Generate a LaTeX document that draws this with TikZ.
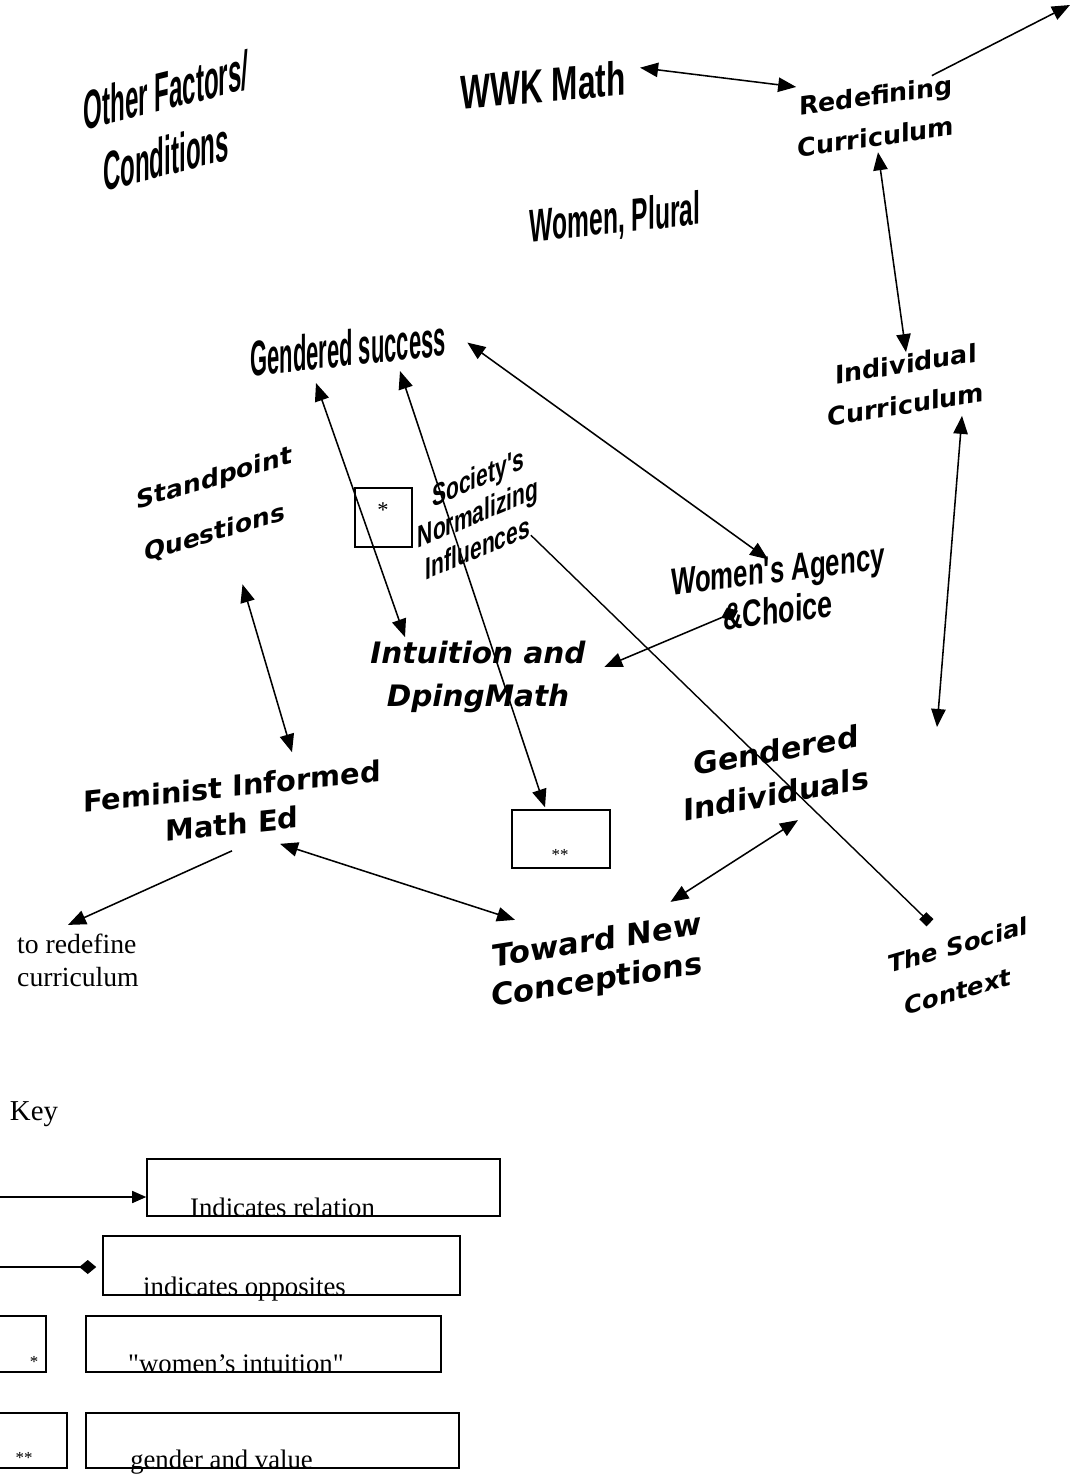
\documentclass[tikz,border=0pt]{standalone}
\usepackage{fontspec}
\setmainfont{Liberation Serif}
\newfontfamily\condfont{Liberation Sans}
\newfontfamily\roundfont{DejaVu Sans}
\newfontfamily\slantfont{DejaVu Sans Bold Oblique}
\usetikzlibrary{arrows.meta}

\newcommand{\narrow}[2]{\scalebox{#1}[1]{#2}}

\begin{document}
\begin{tikzpicture}[x=0.025cm, y=-0.025cm,
squeezed/.style 2 args={inner sep=1pt, align=center, font=\condfont\bfseries\fontsize{#1}{#2}\selectfont},
boldsans/.style 2 args={inner sep=1pt, align=center, font=\roundfont\bfseries\fontsize{#1}{#2}\selectfont},
slanted/.style 2 args={inner sep=1pt, align=center, font=\slantfont\fontsize{#1}{#2}\selectfont},
serif/.style 2 args={inner sep=1pt, align=left, font=\rmfamily\fontsize{#1}{#2}\selectfont},
keybox/.style={draw, line width=1pt, inner sep=0pt},
twoway/.style={line width=1.1pt, {Triangle[length=4.5mm,width=3.6mm]}-{Triangle[length=4.5mm,width=3.6mm]}},
oneway/.style={line width=1.1pt, -{Triangle[length=4.5mm,width=3.6mm]}},
]
\useasboundingbox (0,0) rectangle (1072,1478);
\clip (0,0) rectangle (1072,1478);

% concepts
\node (other) [squeezed={39}{47}, yslant=0.25] at (166,123) {\narrow{0.44}{Other Factors/}\\\narrow{0.44}{Conditions}};
\node (wwk) [squeezed={34}{41}, yslant=0.087] at (543,85) {\narrow{0.66}{WWK Math}};
\node (plural) [squeezed={33}{40}, yslant=0.105] at (615,220) {\narrow{0.53}{Women, Plural}};
\node (redef) [boldsans={18}{29.5}, yslant=0.14] at (876,116) {Redefining\\Curriculum};
\node (gsucc) [squeezed={35.5}{43}, yslant=0.105] at (348,348) {\narrow{0.44}{Gendered success}};
\node (indiv) [boldsans={18}{29}, yslant=0.158] at (906,384) {Individual\\Curriculum};
\node (stand) [boldsans={17.7}{39}, yslant=0.296] at (214.5,506) {Standpoint\\Questions};
\node (starbox) [keybox, minimum width=1.425cm, minimum height=1.475cm] at (383.5,517.5) {};
\node (starmark) [serif={16}{19}] at (383,510) {*};
\node (society) [squeezed={22}{25}, yslant=0.42] at (478,512) {\narrow{0.68}{Society's}\\\narrow{0.68}{Normalizing}\\\narrow{0.68}{Influences}};
\node (agency) [squeezed={27}{29.5}, yslant=0.123] at (778,590) {\narrow{0.68}{Women's Agency}\\\narrow{0.71}{\&Choice}};
\node (intuit) [slanted={21}{31}] at (478,677) {Intuition and\\DpingMath};
\node (feminist) [boldsans={20.5}{27}, yslant=0.105] at (232,805) {Feminist Informed\\Math Ed};
\node (dblbox) [keybox, minimum width=2.45cm, minimum height=1.45cm] at (561,839) {};
\node (dblmark) [serif={12}{14}] at (560,855) {**};
\node (gindiv) [boldsans={21.4}{31}, yslant=0.176] at (776,772) {Gendered\\Individuals};
\node (toredef) [serif={19.7}{23.5}] at (78,960) {to redefine\\curriculum};
\node (toward) [boldsans={21.7}{28}, yslant=0.158] at (597,962) {Toward New\\Conceptions};
\node (social) [boldsans={17.2}{33}, yslant=0.287] at (958,968) {The Social\\Context};
\coordinate (corner) at (1070,5);
\coordinate (loose) at (937,727);

% links
\draw[twoway] ([shift={(13,-10)}]wwk.east) -- ([shift={(0,-8)}]redef.north west);
\draw[oneway] ([shift={(-24,3)}]redef.north east) -- (corner);
\draw[twoway] ([shift={(2,4)}]redef.south) -- (indiv.north);
\draw[twoway] ([shift={(56,0)}]indiv.south) -- (loose);
\draw[twoway] ([shift={(20,5)}]gsucc.east) -- ([shift={(-10,5)}]agency.north);
\draw[twoway] ([shift={(-32,15)}]gsucc.south) -- ([shift={(-73,-2)}]intuit.north);
\draw[twoway] ([shift={(52,3)}]gsucc.south) -- ([shift={(-16,-2)}]dblbox.north);
\draw[line width=1pt, -{Square[length=2.5mm,width=2.5mm]}] ([shift={(-9,1)}]society.south east) -- ([shift={(-28,-11)}]social.north);
\draw[line width=1.1pt, {Triangle[length=4.5mm,width=3.6mm]}-{Diamond[length=4.5mm,width=3.6mm]}] ([shift={(17,-10)}]intuit.east) -- ([shift={(-40,-15)}]agency.south);
\draw[twoway] ([shift={(28,38)}]stand.south) -- ([shift={(60,-21)}]feminist.north);
\draw[twoway] ([shift={(48,7)}]feminist.south) -- ([shift={(-82,-6)}]toward.north);
\draw[oneway] ([shift={(0,14)}]feminist.south) -- ([shift={(-10,-7)}]toredef.north);
\draw[twoway] ([shift={(-34,-7)}]toward.north east) -- ([shift={(22,13)}]gindiv.south);

% key
\node (keytitle) [serif={20.5}{24}] at (34,1114) {Key};
\node (relbox) [keybox, minimum width=8.825cm, minimum height=1.425cm] at (323.5,1187.5) {};
\node (reltext) [serif={19}{22}, anchor=base] at ([shift={(-41,0)}]relbox.south) {Indicates relation};
\coordinate (relstart) at (0,1197);
\draw[line width=1pt, -{Triangle[length=3.5mm,width=3mm]}] (relstart) -- (relstart -| relbox.west);

\node (oppbox) [keybox, minimum width=8.925cm, minimum height=1.475cm] at (281.5,1265.5) {};
\node (opptext) [serif={19}{22}, anchor=base] at ([shift={(-37,0)}]oppbox.south) {indicates opposites};
\coordinate (oppstart) at (0,1267);
\draw[line width=1pt, -{Diamond[length=4.25mm,width=3.5mm]}, shorten >=0.15cm] (oppstart) -- (oppstart -| oppbox.west);

\node (starkey) [keybox, minimum width=1.65cm, minimum height=1.4cm] at (13,1344) {};
\node (starkeymark) [serif={12}{14}] at (34,1362) {*};
\node (intbox) [keybox, minimum width=8.875cm, minimum height=1.4cm] at (263.5,1344) {};
\node (inttext) [serif={19}{22}, anchor=base] at ([shift={(-27.5,0)}]intbox.south) {\textquotedbl women's intuition\textquotedbl};

\node (dblkey) [keybox, minimum width=2.175cm, minimum height=1.375cm] at (23.5,1440.5) {};
\node (dblkeymark) [serif={12}{14}] at (24,1458) {**};
\node (valbox) [keybox, minimum width=9.325cm, minimum height=1.375cm] at (272.5,1440.5) {};
\node (valtext) [serif={19}{22}, anchor=base] at ([shift={(-51,0)}]valbox.south) {gender and value};

\end{tikzpicture}
\end{document}
